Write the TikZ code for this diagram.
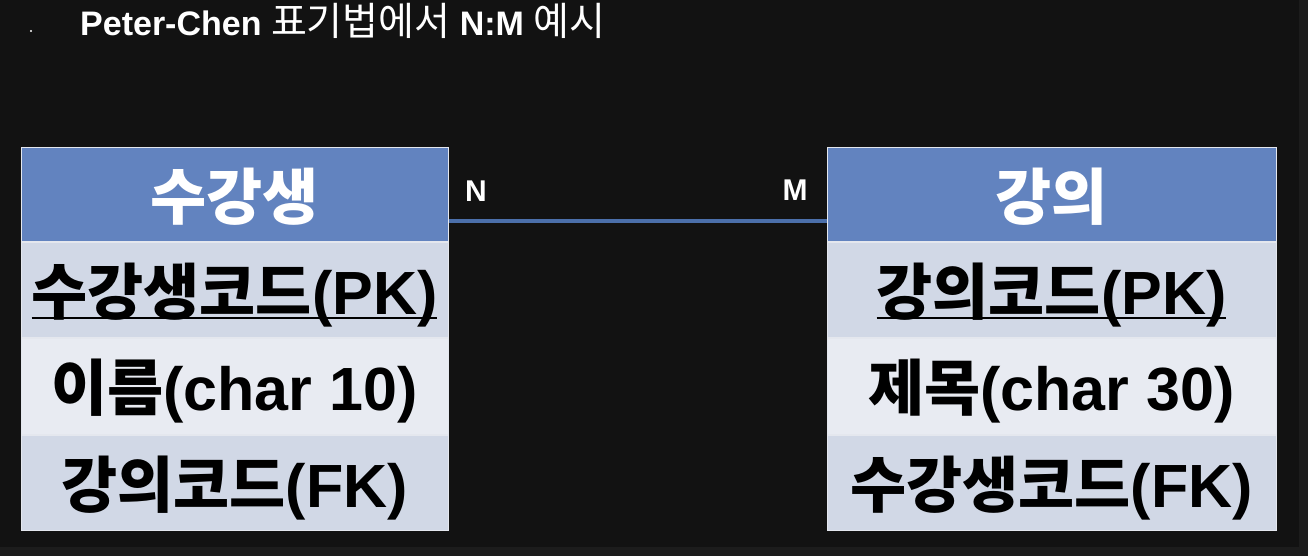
\documentclass[tikz,border=0pt]{standalone}
\usepackage{fontspec}
\setmainfont{Liberation Sans}
\newfontfamily\kofont{Noto Sans CJK KR}
\usetikzlibrary{positioning}
\definecolor{bgdark}{HTML}{121212}
\definecolor{bgband}{HTML}{1C1C1C}
\definecolor{hdrblue}{HTML}{6283BF}
\definecolor{rowdark}{HTML}{D1D8E6}
\definecolor{rowlight}{HTML}{E8EBF2}
\definecolor{linkblue}{HTML}{4B6FAA}
\definecolor{cellline}{HTML}{E4E7EE}
\newcommand\ko[1]{{\kofont #1}}
\newcommand\pk[1]{\setbox0\hbox{#1}\rlap{\raisebox{-5pt}{\rule{\wd0}{2pt}}}\box0}
\begin{document}
\begin{tikzpicture}[x=1pt, y=-1pt,
      hdr/.style = {draw=cellline, line width=1pt, fill=hdrblue, text=white,
        minimum height=93pt, inner sep=0pt, text height=55pt, text depth=6pt,
        font=\fontsize{61}{64}\selectfont\bfseries},
      row/.style = {draw=cellline, line width=1pt, fill=#1, text=black,
        minimum height=95.5pt, inner sep=0pt, text height=55pt, text depth=6pt,
        font=\fontsize{61}{64}\selectfont\bfseries},
      card/.style = {text=white, font=\fontsize{30}{34}\selectfont\bfseries}]
    % background
    \fill[bgdark] (0,0) rectangle (1308,556);
    \fill[bgband] (1299,0) rectangle (1308,556);
    \fill[bgband] (0,547) rectangle (1308,556);
    \useasboundingbox (0,0) rectangle (1308,556);

    % title
    \fill[white] (31,31) circle (1.2);
    \node[anchor=base west, inner sep=0pt, text=white] (title) at (80,36)
      {\fontsize{34}{38}\selectfont\bfseries Peter-Chen
       {\mdseries\ko{\fontsize{39}{42}\selectfont 표기법에서}} N:M
       {\mdseries\ko{\fontsize{39}{42}\selectfont 예시}}};

    % entity: students
    \node[hdr, minimum width=427pt] (stuH) at (234.5,194.5) {\ko{수강생}};
    \node[row=rowdark, minimum width=427pt, below=0pt of stuH] (stuPK)
      {\pk{\ko{수강생코드}(PK)}};
    \node[row=rowlight, minimum width=427pt, below=0pt of stuPK] (stuName)
      {\ko{이름}(char 10)};
    \node[row=rowdark, minimum width=427pt, below=0pt of stuName] (stuFK)
      {\ko{강의코드}(FK)};

    % entity: lectures
    \node[hdr, minimum width=449pt] (lecH) at (1051.5,194.5) {\ko{강의}};
    \node[row=rowdark, minimum width=449pt, below=0pt of lecH] (lecPK)
      {\pk{\ko{강의코드}(PK)}};
    \node[row=rowlight, minimum width=449pt, below=0pt of lecPK] (lecTitle)
      {\ko{제목}(char 30)};
    \node[row=rowdark, minimum width=449pt, below=0pt of lecTitle] (lecFK)
      {\ko{수강생코드}(FK)};

    % relationship
    \draw[linkblue, line width=4pt] ([yshift=-26.5pt]stuH.east) -- ([yshift=-26.5pt]lecH.west);
    \node[card] (cardN) at (476,191) {N};
    \node[card] (cardM) at (795,190) {M};

  \end{tikzpicture}
\end{document}
